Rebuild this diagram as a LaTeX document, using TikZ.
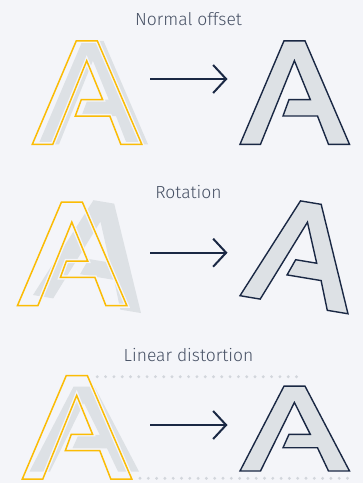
\documentclass[tikz,border=0pt]{standalone}
\usepackage{fontspec}
\setmainfont{Fira Sans}[UprightFont={* Light}]
\usetikzlibrary{arrows.meta}

\definecolor{bgcol}{RGB}{244,245,249}
\definecolor{glyphgray}{RGB}{221,225,229}
\definecolor{amber}{RGB}{251,188,5}
\definecolor{navy}{RGB}{26,40,68}
\definecolor{captioncol}{RGB}{70,80,100}
\definecolor{dotgray}{RGB}{210,214,220}

\tikzset{
  % the letter A, drawn from its lower left corner
  glyphA/.pic={
    \path[pic actions] (0,0) -- (44,-103.5) -- (65,-103.5) -- (109.5,0)
      -- (88.5,0) -- (77.5,-28.3) -- (43,-28.3) -- (49,-44.7) -- (70.3,-44.7)
      -- (54.4,-83.6) -- (20.5,0) -- cycle;
  },
  shadowA/.style={fill=glyphgray, draw=none},
  haloA/.style={draw=bgcol, line width=4.2pt, line join=miter},
  sourceA/.style={draw=amber, line width=1.5pt, line join=miter},
  resultA/.style={fill=glyphgray, draw=navy, line width=1.4pt, line join=miter},
  caption/.style={text=captioncol, font=\fontsize{17.5}{20}\selectfont, inner sep=0pt},
  mapsto/.style={draw=navy, line width=2pt, -{Straight Barb[length=13pt,width=28pt]}},
  dotline/.style={draw=dotgray, line width=3.2pt, line cap=round, dash pattern=on 0pt off 8.3pt},
}

\begin{document}
\begin{tikzpicture}[x=1pt, y=-1pt]
  \fill[bgcol] (0,0) rectangle (363,483);
  \useasboundingbox (0,0) rectangle (363,483);

  % ---- Normal offset ----
  \node[caption] (cap1) at (188.5,19) {Normal offset};
  \pic[shadowA] at (38.5,144.3) {glyphA};
  \pic[haloA] at (32.3,144.3) {glyphA};
  \pic[sourceA] at (32.3,144.3) {glyphA};
  \coordinate (a1s) at (150,79);
  \coordinate (a1e) at (227.5,79);
  \draw[mapsto] (a1s) -- (a1e);
  \pic[resultA] at (240,144.3) {glyphA};

  % ---- Rotation ----
  \node[caption] (cap2) at (188.5,192) {Rotation};
  \pic[shadowA, rotate=-9.5] at (33,295) {glyphA};
  \pic[haloA] at (17.4,305.7) {glyphA};
  \pic[sourceA] at (17.4,305.7) {glyphA};
  \coordinate (a2s) at (150,252.7);
  \coordinate (a2e) at (227.5,252.7);
  \draw[mapsto] (a2s) -- (a2e);
  \pic[resultA, rotate=-9.5] at (240,295.7) {glyphA};

  % ---- Linear distortion ----
  \node[caption] (cap3) at (188.5,355.5) {Linear distortion};
  \coordinate (d1s) at (97.3,376.7);
  \coordinate (d1e) at (302,376.7);
  \coordinate (d2s) at (140,478.3);
  \coordinate (d2e) at (354,478.3);
  \draw[dotline] (d1s) -- (d1e);
  \draw[dotline] (d2s) -- (d2e);
  \pic[shadowA, yscale=0.82] at (29.5,471.5) {glyphA};
  \pic[haloA] at (22.3,479) {glyphA};
  \pic[sourceA] at (22.3,479) {glyphA};
  \coordinate (a3s) at (150,425);
  \coordinate (a3e) at (227.5,425);
  \draw[mapsto] (a3s) -- (a3e);
  \pic[resultA, yscale=0.82] at (240,471) {glyphA};
\end{tikzpicture}
\end{document}
